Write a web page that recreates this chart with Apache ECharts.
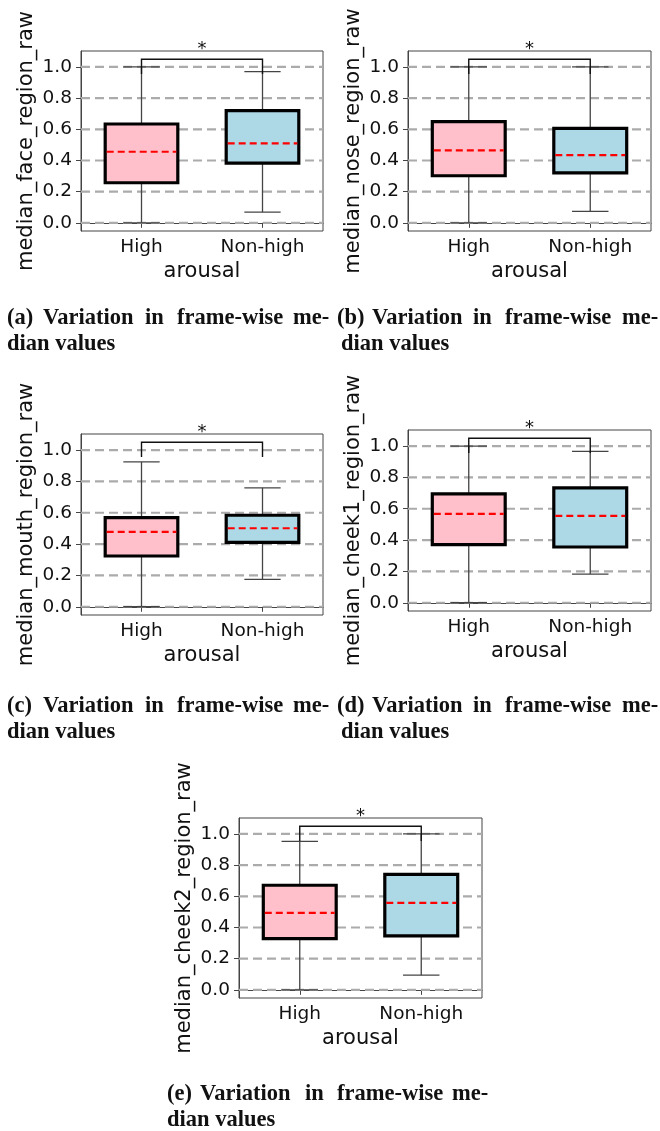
<!DOCTYPE html>
<html><head><meta charset="utf-8">
<script src="https://cdn.jsdelivr.net/npm/echarts@6/dist/echarts.min.js"></script>
<style>html,body{margin:0;padding:0;background:#fff}#c{width:660px;height:1131px}</style>
</head><body><div id="c"></div>
<script>
// ---------- data ----------
const categories = ["High", "Non-high"];
const yTicks = [0, 0.2, 0.4, 0.6, 0.8, 1.0];
const xAxisName = "arousal";
const yAxisNames = ["median_face_region_raw", "median_nose_region_raw", "median_mouth_region_raw", "median_cheek1_region_raw", "median_cheek2_region_raw"];
// [whisker low, Q1, median, Q3, whisker high]
const faceHigh = [0, 0.257, 0.456, 0.634, 1.0];
const faceNonHigh = [0.069, 0.383, 0.51, 0.72, 0.97];
const noseHigh = [0, 0.302, 0.465, 0.649, 1.0];
const noseNonHigh = [0.073, 0.321, 0.435, 0.606, 1.0];
const mouthHigh = [0, 0.324, 0.478, 0.569, 0.925];
const mouthNonHigh = [0.175, 0.411, 0.501, 0.584, 0.759];
const cheek1High = [0, 0.371, 0.567, 0.695, 1.0];
const cheek1NonHigh = [0.183, 0.356, 0.554, 0.733, 0.966];
const cheek2High = [0, 0.329, 0.494, 0.671, 0.953];
const cheek2NonHigh = [0.094, 0.346, 0.558, 0.741, 1.0];
// significance bracket [drop bottom, top] and its label
const bracket = [0.955, 1.05];
const sigLabel = "*";
const captionLine1 = ["Variation", "in", "frame-wise", "me-"];
const captionLine2 = "dian values";
const captionTags = ["(a)", "(b)", "(c)", "(d)", "(e)"];

// ---------- layout ----------
const panelData = [
  [faceHigh, faceNonHigh], [noseHigh, noseNonHigh], [mouthHigh, mouthNonHigh],
  [cheek1High, cheek1NonHigh], [cheek2High, cheek2NonHigh]
];
const grids = [
  {left: 81, top: 51, width: 242, height: 180},
  {left: 408, top: 51, width: 243, height: 180},
  {left: 81, top: 434, width: 242, height: 181},
  {left: 408, top: 430, width: 243, height: 181},
  {left: 239, top: 818, width: 243, height: 180}
];
const captionPos = [
  {xs: [7, 43, 145, 177, 293], x2: 7, y1: 320, y2: 346},
  {xs: [337, 372, 473, 505, 622], x2: 341, y1: 320, y2: 346},
  {xs: [7, 43, 145, 177, 293], x2: 7, y1: 708, y2: 734},
  {xs: [337, 372, 473, 505, 622], x2: 341, y1: 708, y2: 734},
  {xs: [167, 200, 305, 337, 452], x2: 167, y1: 1096, y2: 1122}
];
const boxColors = ['#FFC0CB', '#ADD8E6'];
const FONT = 'DejaVu Sans';
const CAP_FONT = 22.5;
const axisMin = -0.0525, axisMax = 1.1025;

const chart = echarts.init(document.getElementById('c'), null, {renderer: 'canvas'});

const option = {
  backgroundColor: '#fff',
  animation: false,
  grid: [], xAxis: [], yAxis: [], series: [], graphic: []
};

panelData.forEach((pd, i) => {
  option.grid.push(Object.assign({show: true, borderColor: '#444', borderWidth: 1, backgroundColor: 'transparent'}, grids[i]));
  option.xAxis.push({
    type: 'category', gridIndex: i, data: categories, boundaryGap: true,
    axisLine: {show: true, lineStyle: {color: '#444', width: 1}},
    axisTick: {show: true, alignWithLabel: true, length: 5, lineStyle: {color: '#444'}},
    axisLabel: {fontFamily: FONT, fontSize: 18.5, color: '#111', margin: 7},
    splitLine: {show: false},
    name: xAxisName, nameLocation: 'middle', nameGap: 30,
    nameTextStyle: {fontFamily: FONT, fontSize: 21, color: '#111'}
  });
  option.yAxis.push({
    type: 'value', gridIndex: i, min: axisMin, max: axisMax,
    axisLine: {show: true, lineStyle: {color: '#444', width: 1}},
    axisTick: {show: true, length: 5, customValues: yTicks, lineStyle: {color: '#444'}},
    axisLabel: {fontFamily: FONT, fontSize: 18.5, color: '#111', margin: 9, customValues: yTicks,
      formatter: v => Number(v).toFixed(1)},
    splitLine: {show: false},
    name: yAxisNames[i], nameLocation: 'middle', nameGap: 44,
    nameTextStyle: {fontFamily: FONT, fontSize: 21, color: '#111'}
  });
  // dashed horizontal grid lines
  option.series.push({
    type: 'custom', xAxisIndex: i, yAxisIndex: i, z: 1, silent: true,
    data: yTicks.map(v => [0, v]), encode: {x: 0, y: 1},
    renderItem: (params, api) => {
      const cs = params.coordSys;
      const y = api.coord([0, api.value(1)])[1];
      return {type: 'line', shape: {x1: cs.x, y1: y, x2: cs.x + cs.width, y2: y},
        style: {stroke: '#ababab', lineWidth: 2.2, lineDash: [9, 5]}};
    }
  });
  // boxes
  option.series.push({
    type: 'custom', xAxisIndex: i, yAxisIndex: i, z: 5, silent: true,
    data: pd.map((d, k) => [k].concat(d)), encode: {x: 0, y: [1, 2, 3, 4, 5]},
    renderItem: (params, api) => {
      const k = api.value(0);
      const band = api.size([1, 0])[0];
      const pLo = api.coord([k, api.value(1)]);
      const pQ1 = api.coord([k, api.value(2)]);
      const pMed = api.coord([k, api.value(3)]);
      const pQ3 = api.coord([k, api.value(4)]);
      const pHi = api.coord([k, api.value(5)]);
      const cx = pMed[0];
      const bw = band * 0.6, cw = band * 0.3;
      const wStyle = {stroke: '#444', lineWidth: 1.3};
      return {type: 'group', children: [
        {type: 'line', shape: {x1: cx, y1: pLo[1], x2: cx, y2: pQ1[1]}, style: wStyle},
        {type: 'line', shape: {x1: cx, y1: pQ3[1], x2: cx, y2: pHi[1]}, style: wStyle},
        {type: 'line', shape: {x1: cx - cw / 2, y1: pLo[1], x2: cx + cw / 2, y2: pLo[1]}, style: wStyle},
        {type: 'line', shape: {x1: cx - cw / 2, y1: pHi[1], x2: cx + cw / 2, y2: pHi[1]}, style: wStyle},
        {type: 'rect', shape: {x: cx - bw / 2, y: pQ3[1], width: bw, height: pQ1[1] - pQ3[1]},
          style: {fill: boxColors[k], stroke: '#000', lineWidth: 3.2}},
        {type: 'line', shape: {x1: cx - bw / 2 + 1.5, y1: pMed[1], x2: cx + bw / 2 - 1.5, y2: pMed[1]},
          style: {stroke: '#ff0000', lineWidth: 2.2, lineDash: [7, 4]}}
      ]};
    }
  });
  // significance bracket
  option.series.push({
    type: 'custom', xAxisIndex: i, yAxisIndex: i, z: 6, silent: true, clip: false,
    data: [[0, 1, bracket[0], bracket[1]]], encode: {x: [0, 1], y: [2, 3]},
    renderItem: (params, api) => {
      const a = api.coord([api.value(0), api.value(2)]);
      const b = api.coord([api.value(0), api.value(3)]);
      const c = api.coord([api.value(1), api.value(3)]);
      const d = api.coord([api.value(1), api.value(2)]);
      return {type: 'group', children: [
        {type: 'polyline', shape: {points: [a, b, c, d]}, style: {stroke: '#111', lineWidth: 1.4, fill: null}},
        {type: 'text', x: (b[0] + c[0]) / 2, y: b[1] - 1,
          style: {text: sigLabel, fontFamily: FONT, fontSize: 18, fill: '#111', align: 'center', verticalAlign: 'bottom'}}
      ]};
    }
  });
  // caption
  const cp = captionPos[i];
  const words = [captionTags[i]].concat(captionLine1);
  words.forEach((w, j) => {
    option.graphic.push({type: 'text', left: cp.xs[j], top: cp.y1 - 13,
      style: {text: w, fontFamily: 'Liberation Serif', fontWeight: 'bold', fontSize: CAP_FONT, fill: '#111'}});
  });
  option.graphic.push({type: 'text', left: cp.x2, top: cp.y2 - 13,
    style: {text: captionLine2, fontFamily: 'Liberation Serif', fontWeight: 'bold', fontSize: CAP_FONT, fill: '#111'}});
});

chart.setOption(option);
</script></body></html>
